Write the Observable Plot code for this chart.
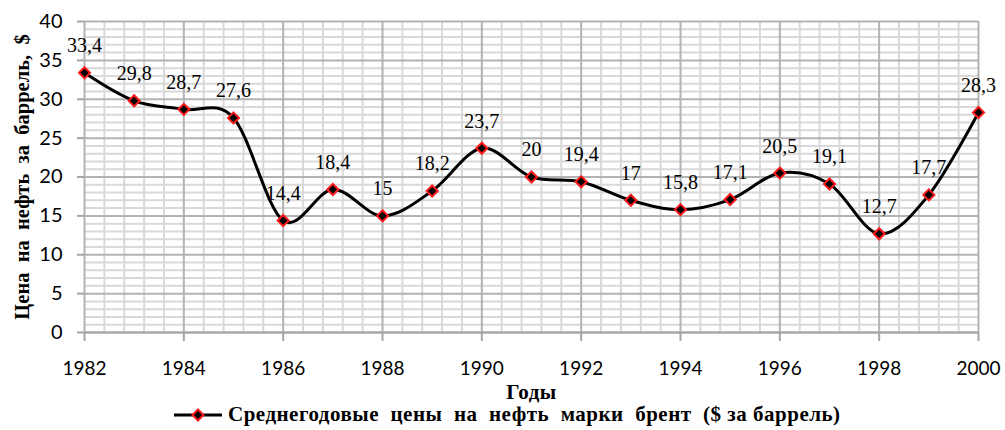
<!DOCTYPE html>
<html>
<head>
<meta charset="utf-8">
<script src="https://cdn.jsdelivr.net/npm/d3@7"></script>
<script src="https://cdn.jsdelivr.net/npm/@observablehq/plot@0.6"></script>
<style>
  html, body { margin: 0; padding: 0; background: #fff; }
  body { position: relative; width: 1005px; height: 430px; overflow: hidden; }
  #chart svg text { white-space: pre; }
  #chart svg .xttl text { letter-spacing: 0.5px; }
  #legend { position: absolute; left: 0; top: 403px; height: 24px; display: flex; align-items: center; justify-content: flex-start; padding-left: 174px;
    font-family: "Liberation Serif", serif; font-weight: bold; font-size: 21px; line-height: 0.85; letter-spacing: 0.5px; white-space: pre; color: #000; }
  #legend span { display: inline-block; line-height: 0.85; }
  #legend svg { margin-right: 6px; }
</style>
</head>
<body>
<div id="chart"></div>
<div id="legend"></div>
<script>
const years = [1982, 1983, 1984, 1985, 1986, 1987, 1988, 1989, 1990, 1991, 1992, 1993, 1994, 1995, 1996, 1997, 1998, 1999, 2000];
const prices = [33.4, 29.8, 28.7, 27.6, 14.4, 18.4, 15, 18.2, 23.7, 20, 19.4, 17, 15.8, 17.1, 20.5, 19.1, 12.7, 17.7, 28.3];
const xTicks = [1982, 1984, 1986, 1988, 1990, 1992, 1994, 1996, 1998, 2000];
const yTicks = [0, 5, 10, 15, 20, 25, 30, 35, 40];
const yTitle = "Цена  на  нефть  за  баррель,  $";
const xTitle = "Годы";
const seriesName = "Среднегодовые  цены  на  нефть  марки  брент  ($ за баррель)";

const data = years.map((y, i) => ({year: y, price: prices[i]}));
const yMinor = d3.range(0, 41, 1).filter(v => v % 5 !== 0);
const xMinor = d3.range(0, 46).map(i => 1982 + i * 0.4).filter((v, i) => i % 5 !== 0);
const fmt = v => String(v).replace(".", ",");

const chart = Plot.plot({
  width: 1005,
  height: 410,
  marginLeft: 84,
  marginRight: 27,
  marginTop: 21,
  marginBottom: 78,
  style: {fontFamily: "Lato, sans-serif", fontSize: "19px", background: "transparent", color: "#000"},
  x: {domain: [1982, 2000]},
  y: {domain: [0, 40]},
  marks: [
    Plot.ruleY(yMinor, {stroke: "#d9d9d9", strokeWidth: 2}),
    Plot.ruleX(xMinor, {stroke: "#d9d9d9", strokeWidth: 2}),
    Plot.ruleY(yTicks, {stroke: "#b3b3b3", strokeWidth: 2}),
    Plot.ruleX(xTicks, {stroke: "#b3b3b3", strokeWidth: 2}),
    Plot.ruleY([0], {stroke: "#a6a6a6", strokeWidth: 2}),
    Plot.axisY({ticks: yTicks, tickSize: 7, tickPadding: 15, stroke: "#a6a6a6", strokeWidth: 2, fill: "#000", fontSize: 20, label: null}),
    Plot.axisX({ticks: xTicks, tickSize: 9, tickPadding: 20, stroke: "#a6a6a6", strokeWidth: 2, fill: "#000", fontSize: 19, tickFormat: d => String(d), label: null}),
    Plot.line(data, {x: "year", y: "price", curve: "cardinal", tension: 0, stroke: "#000", strokeWidth: 3}),
    Plot.dot(data, {x: "year", y: "price", symbol: "diamond2", r: 5, fill: "#000", stroke: "#ff1a1a", strokeWidth: 2}),
    Plot.text(data, {x: "year", y: "price", text: d => fmt(d.price), dy: -27, fontFamily: "Liberation Serif, serif", fontSize: 20, fill: "#000"}),
    Plot.text([yTitle], {frameAnchor: "left", textAnchor: "middle", lineAnchor: "middle", rotate: -90, dx: -62, fontFamily: "Liberation Serif, serif", fontWeight: "bold", fontSize: 20.5, fill: "#000"}),
    Plot.text([xTitle], {frameAnchor: "bottom", textAnchor: "middle", lineAnchor: "middle", dy: 60, fontFamily: "Liberation Serif, serif", fontWeight: "bold", fontSize: 21, fill: "#000", className: "xttl"})
  ]
});
document.getElementById("chart").appendChild(chart);

const legend = document.getElementById("legend");
legend.innerHTML = `<svg width="48" height="14" viewBox="0 0 48 14"><line x1="0" y1="7" x2="48" y2="7" stroke="#000" stroke-width="3"/><path d="M24,1.5L29.5,7L24,12.5L18.5,7Z" fill="#000" stroke="#ff1a1a" stroke-width="2"/></svg><span></span>`;
legend.querySelector("span").textContent = seriesName;
</script>
</body>
</html>
